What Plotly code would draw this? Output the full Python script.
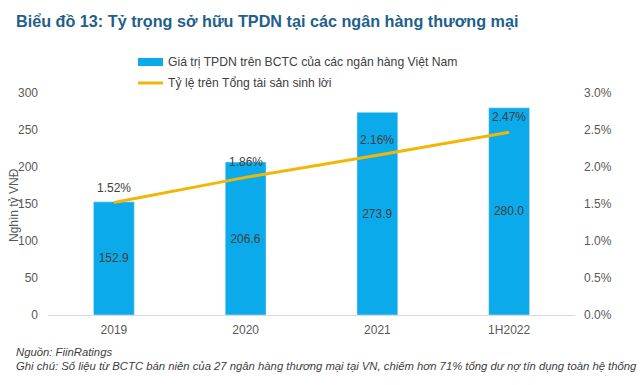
import plotly.graph_objects as go

categories = ["2019", "2020", "2021", "1H2022"]
bond_values = [152.9, 206.6, 273.9, 280.0]
ratio_values = [0.0152, 0.0186, 0.0216, 0.0247]
bar_name = "Giá trị TPDN trên BCTC của các ngân hàng Việt Nam"
line_name = "Tỷ lệ trên Tổng tài sản sinh lời"
title_text = "Biểu đồ 13: Tỷ trọng sở hữu TPDN tại các ngân hàng thương mại"
source_text = "Nguồn: FiinRatings"
note_text = "Ghi chú: Số liệu từ BCTC bán niên của 27 ngân hàng thương mại tại VN, chiếm hơn 71% tổng dư nợ tín dụng toàn hệ thống"

BLUE = "#0BAAEA"
GOLD = "#F2B705"
TXT = "#404040"
TICK = "#595959"
FONT = "Liberation Sans, Arial, sans-serif"

fig = go.Figure()
fig.add_trace(go.Bar(
    x=categories, y=bond_values, name=bar_name, marker_color=BLUE,
    width=0.31, text=bond_values, texttemplate="%{y:.1f}",
    textposition="inside", insidetextanchor="middle",
    textfont=dict(color=TXT, size=12, family=FONT), showlegend=False,
))
fig.add_trace(go.Scatter(
    x=categories, y=ratio_values, name=line_name, yaxis="y2",
    mode="lines", line=dict(color=GOLD, width=3), showlegend=False,
))

L, R, T, B = 48, 65, 93, 70
W, H = 640, 385
pw, ph = W - L - R, H - T - B

def px(x):
    return (x - L) / pw

def py(y):
    return (H - B - y) / ph

fig.update_layout(
    width=W, height=H,
    margin=dict(l=L, r=R, t=T, b=B),
    plot_bgcolor="white", paper_bgcolor="white",
    font=dict(family=FONT, size=12, color=TICK),
    xaxis=dict(type="category", categoryorder="array", categoryarray=categories,
               showgrid=False, showline=True, linecolor="#D9D9D9", linewidth=1,
               ticks="", tickfont=dict(size=12, color=TICK), ticklabelstandoff=4),
    yaxis=dict(range=[0, 300], dtick=50, showgrid=False, zeroline=False,
               tickfont=dict(size=12, color=TICK), ticklabelstandoff=9),
    yaxis2=dict(range=[0, 0.03], dtick=0.005, tickformat=".1%", overlaying="y",
                side="right", showgrid=False, zeroline=False,
                tickfont=dict(size=12, color=TICK), ticklabelstandoff=8),
)

ann = [
    dict(text="<b>" + title_text + "</b>", x=px(14), y=py(21), xanchor="left", yanchor="middle",
         font=dict(size=16.2, color="#1F5F8C", family=FONT)),
    dict(text=bar_name, x=px(166), y=py(62), xanchor="left", yanchor="middle",
         font=dict(size=12.2, color=TXT, family=FONT)),
    dict(text=line_name, x=px(166), y=py(83), xanchor="left", yanchor="middle",
         font=dict(size=12.2, color=TXT, family=FONT)),
    dict(text="Nghìn tỷ VNĐ", x=px(14), y=py(205), xanchor="center", yanchor="middle",
         textangle=-90, font=dict(size=12, color=TICK, family=FONT)),
    dict(text="<i>" + source_text + "</i>", x=px(14), y=py(352), xanchor="left", yanchor="middle",
         font=dict(size=11.3, color=TXT, family=FONT)),
    dict(text="<i>" + note_text + "</i>", x=px(14), y=py(366), xanchor="left", yanchor="middle",
         font=dict(size=11.3, color=TXT, family=FONT)),
]
for a in ann:
    a.update(xref="paper", yref="paper", showarrow=False)
for i, v in enumerate(ratio_values):
    ann.append(dict(x=i, y=v, xref="x", yref="y2", text=f"{v*100:.2f}%", showarrow=False,
                    yshift=15, xanchor="center", yanchor="middle",
                    font=dict(size=12, color=TXT, family=FONT)))
fig.update_layout(annotations=ann)

fig.update_layout(shapes=[
    dict(type="rect", xref="paper", yref="paper", x0=px(138), x1=px(163), y0=py(66), y1=py(58),
         fillcolor=BLUE, line=dict(width=0)),
    dict(type="line", xref="paper", yref="paper", x0=px(138), x1=px(163), y0=py(83), y1=py(83),
         line=dict(color=GOLD, width=3)),
])

fig.write_html("out.html", config={"displayModeBar": False},
               post_script="document.body.style.margin='0';document.body.style.overflow='hidden';")
